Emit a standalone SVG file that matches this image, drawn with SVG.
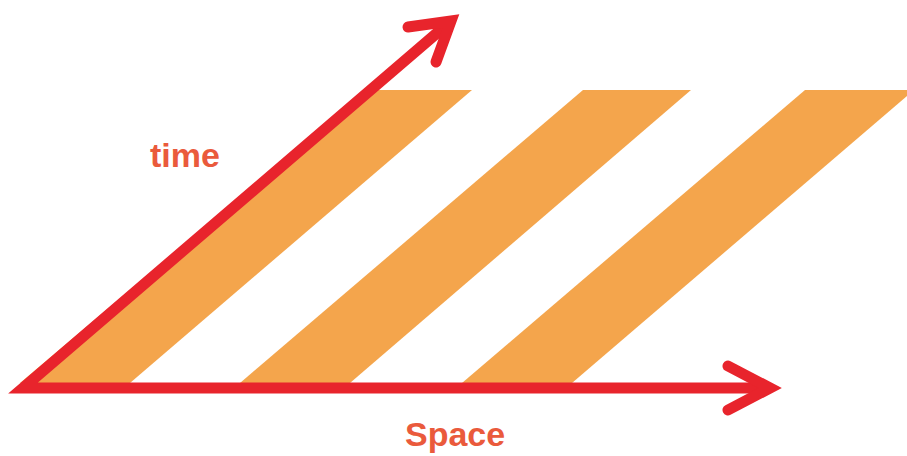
<svg xmlns="http://www.w3.org/2000/svg" width="907" height="456" viewBox="0 0 907 456">
  <style>
    .stripe { fill: #F4A54C; }
    .axis { fill: none; stroke: #E8242C; stroke-width: 11; stroke-linejoin: miter; stroke-linecap: butt; }
    .head { fill: none; stroke: #E8242C; stroke-width: 11; stroke-linejoin: miter; stroke-linecap: round; }
    .label { font-family: "Liberation Sans", Arial, sans-serif; font-weight: bold; font-size: 34px; fill: #EA5A3C; }
  </style>
  <rect width="907" height="456" fill="#FFFFFF"/>
  <g id="stripes">
    <polygon id="stripe1" class="stripe" points="20,383 130,383 472,90 366,90"/>
    <polygon id="stripe2" class="stripe" points="240,383 350,383 691,90 583,90"/>
    <polygon id="stripe3" class="stripe" points="462,383 572,383 914,90 805,90"/>
  </g>
  <g id="connectors">
    <polyline id="axes" class="axis" points="451,21 23,388 770,388"/>
    <polyline id="time-head" class="head" points="408,27 451,21 436,62"/>
    <polyline id="space-head" class="head" points="728,366 770,388 728,410"/>
  </g>
  <g id="label-time">
    <text class="label" x="150" y="167">time</text>
  </g>
  <g id="label-space">
    <text class="label" x="405" y="446">Space</text>
  </g>
</svg>
